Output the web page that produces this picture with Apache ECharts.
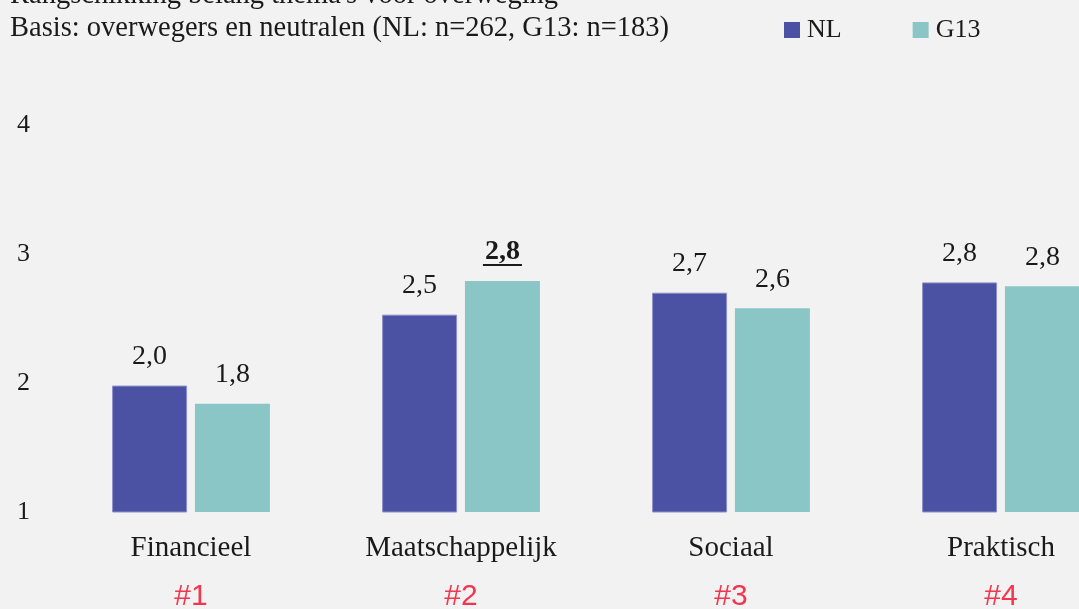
<!DOCTYPE html>
<html>
<head>
<meta charset="utf-8">
<script src="https://cdn.jsdelivr.net/npm/echarts@6/dist/echarts.min.js"></script>
<style>
  html, body { margin: 0; padding: 0; background: #f2f2f2; }
  #chart { width: 1079px; height: 609px; }
</style>
</head>
<body>
<div id="chart"></div>
<script>
// Themes in ranking order, with their rank badges
const categories = ['Financieel', 'Maatschappelijk', 'Sociaal', 'Praktisch'];
const ranks = ['#1', '#2', '#3', '#4'];

// Average rank score per theme
const seriesNames = ['NL', 'G13'];
const nlValues = [1.98, 2.53, 2.70, 2.78];
const g13Values = [1.84, 2.79, 2.58, 2.75];

// G13 value that is printed bold and underlined
const g13Marked = ['Maatschappelijk'];

const yTicks = [1, 2, 3, 4];

const titleLines = [
  "Rangschikking belang thema's voor overweging",
  'Basis: overwegers en neutralen (NL: n=262, G13: n=183)'
];

const SERIF = '"Liberation Serif", "Times New Roman", serif';
const INK = '#1a1a1a';
const fmt = v => v.toFixed(1).replace('.', ',');

const plainLabel = {
  show: true,
  position: 'top',
  distance: 15,
  fontFamily: SERIF,
  fontSize: 28,
  lineHeight: 28,
  color: INK,
  formatter: p => fmt(p.value)
};

const markedLabel = {
  show: true,
  position: 'top',
  distance: 15,
  formatter: p => '{v|' + fmt(p.value) + '}\n{u|}',
  rich: {
    v: { fontFamily: SERIF, fontSize: 28, lineHeight: 24, fontWeight: 'bold', color: INK, align: 'center' },
    u: { width: 39, height: 2, lineHeight: 2, backgroundColor: INK, align: 'center' }
  }
};

const nlData = nlValues.map(v => ({ value: v }));
const g13Data = g13Values.map((v, i) => (
  g13Marked.includes(categories[i]) ? { value: v, label: markedLabel } : { value: v }
));

const chart = echarts.init(document.getElementById('chart'), null, { renderer: 'canvas' });

chart.setOption({
  backgroundColor: '#f2f2f2',
  animation: false,
  title: {
    text: titleLines.join('\n'),
    left: 5,
    top: -26,
    textStyle: { fontFamily: SERIF, fontSize: 28.5, lineHeight: 33, fontWeight: 'normal', color: INK }
  },
  legend: {
    data: seriesNames,
    left: 779,
    top: 12,
    itemWidth: 16,
    itemHeight: 16,
    itemGap: 71,
    icon: 'rect',
    itemStyle: { borderWidth: 0 },
    textStyle: { fontFamily: SERIF, fontSize: 26, color: INK, padding: [0, 0, 0, 2] }
  },
  grid: { left: 56, top: 125, bottom: 97, width: 1080, outerBoundsMode: 'none' },
  xAxis: {
    type: 'category',
    data: categories,
    axisLine: { show: false },
    axisTick: { show: false },
    axisLabel: {
      margin: 18,
      interval: 0,
      formatter: (name, i) => '{name|' + name + '}\n{rank|' + ranks[i] + '}',
      rich: {
        name: { fontFamily: SERIF, fontSize: 29, lineHeight: 36, color: INK },
        rank: { fontFamily: '"Liberation Sans Narrow", "Liberation Sans", sans-serif', fontSize: 30, lineHeight: 62, color: '#f2364f' }
      }
    }
  },
  yAxis: {
    type: 'value',
    min: yTicks[0],
    max: yTicks[yTicks.length - 1],
    interval: 1,
    splitLine: { show: false },
    axisLine: { show: false },
    axisTick: { show: false },
    axisLabel: { margin: 26, fontFamily: SERIF, fontSize: 26, color: INK }
  },
  series: [
    {
      name: seriesNames[0],
      type: 'bar',
      data: nlData,
      barWidth: 75,
      barGap: '10.5%',
      itemStyle: { color: '#4c52a3', borderColor: '#8c90c8', borderWidth: 1 },
      label: plainLabel
    },
    {
      name: seriesNames[1],
      type: 'bar',
      data: g13Data,
      barWidth: 75,
      itemStyle: { color: '#8bc6c7' },
      label: plainLabel
    }
  ]
});
</script>
</body>
</html>
